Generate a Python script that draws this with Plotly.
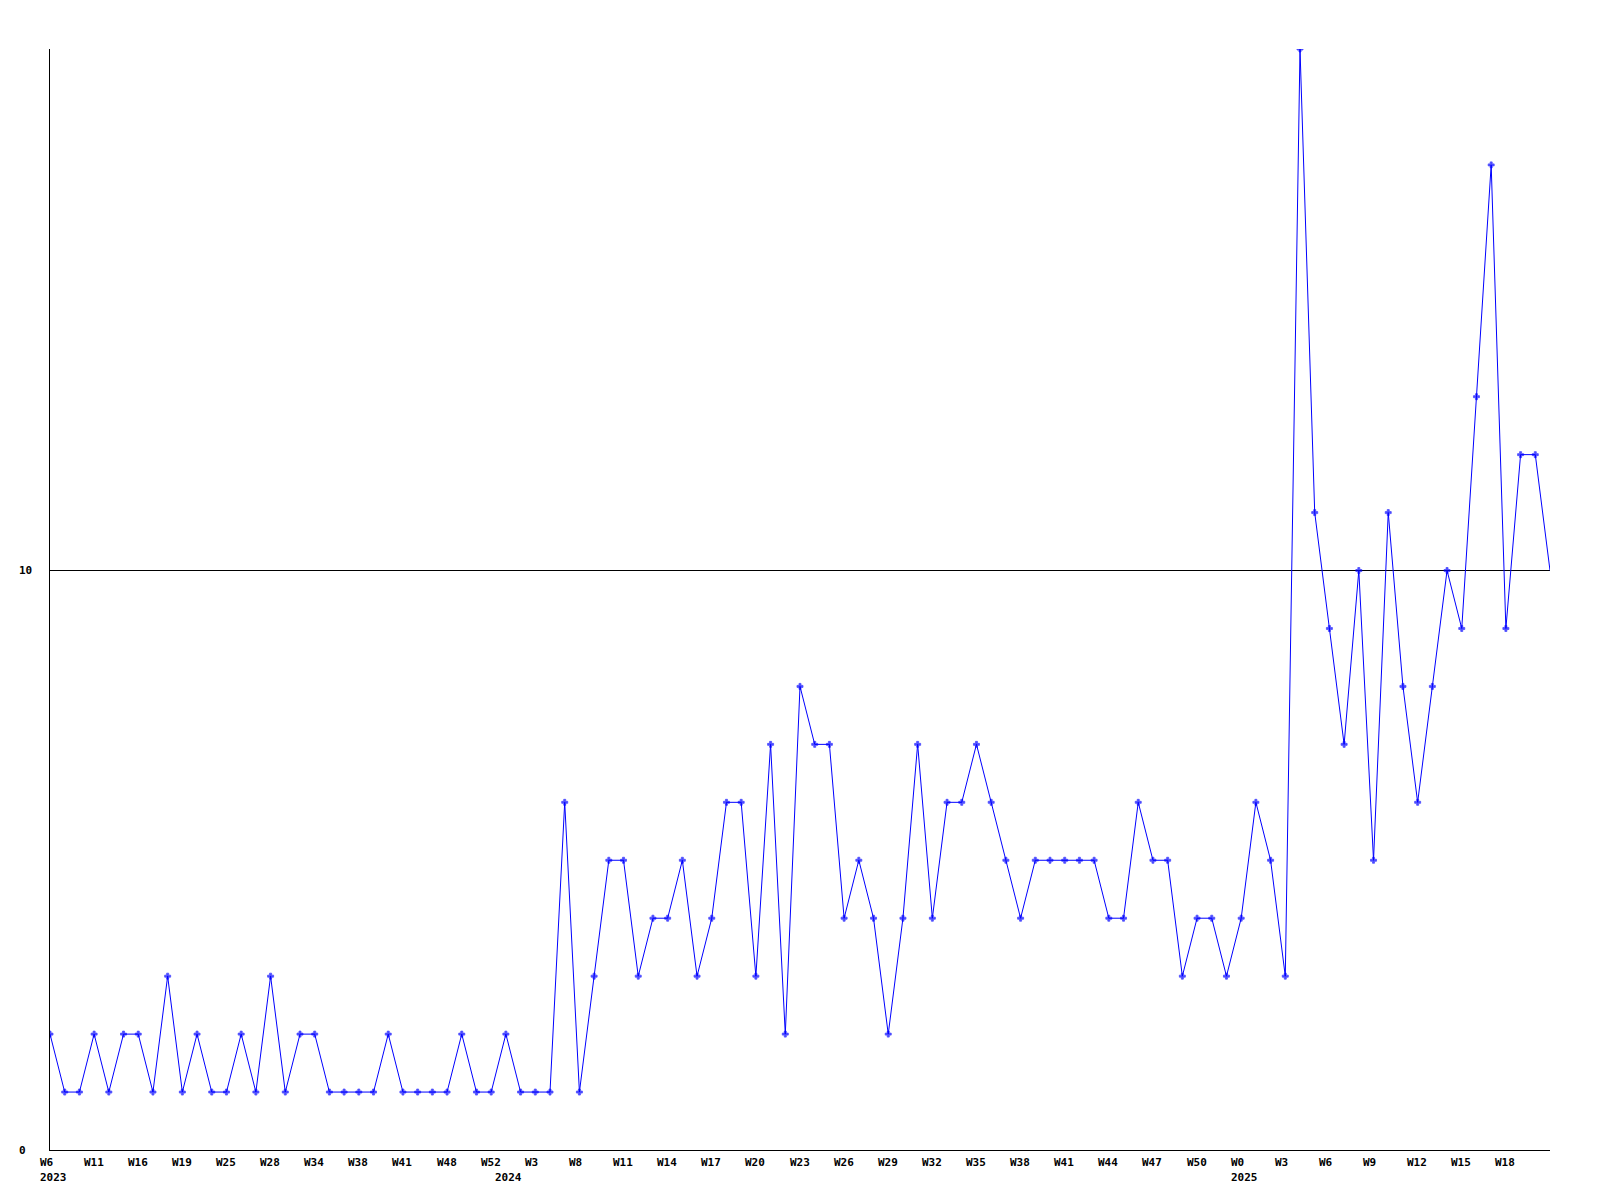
import plotly.graph_objects as go

values = [2, 1, 1, 2, 1, 2, 2, 1, 3, 1, 2, 1, 1, 2, 1, 3, 1, 2, 2, 1,
          1, 1, 1, 2, 1, 1, 1, 1, 2, 1, 1, 2, 1, 1, 1, 6, 1, 3, 5, 5,
          3, 4, 4, 5, 3, 4, 6, 6, 3, 7, 2, 8, 7, 7, 4, 5, 4, 2, 4, 7,
          4, 6, 6, 7, 6, 5, 4, 5, 5, 5, 5, 5, 4, 4, 6, 5, 5, 3, 4, 4,
          3, 4, 6, 5, 3, 19, 11, 9, 7, 10, 5, 11, 8, 6, 8, 10, 9, 13, 17, 9,
          12, 12, 10]

week_labels = ["W6", "W11", "W16", "W19", "W25", "W28", "W34", "W38", "W41", "W48",
               "W52", "W3", "W8", "W11", "W14", "W17", "W20", "W23", "W26", "W29",
               "W32", "W35", "W38", "W41", "W44", "W47", "W50", "W0", "W3", "W6",
               "W9", "W12", "W15", "W18"]
week_label_idx = [i * 3 for i in range(len(week_labels))]

year_labels = ["2023", "2024", "2025"]
year_label_idx = [0, 31, 81]

y_tick_vals = [0, 10]

x = list(range(len(values)))
font = dict(family="DejaVu Sans Mono", size=11, color="black")

marker_sizes = [5] * (len(values) - 1) + [0]

fig = go.Figure()
fig.add_trace(go.Scatter(
    x=x, y=values, mode="lines+markers",
    line=dict(color="#0000ff", width=1),
    marker=dict(symbol="cross", size=marker_sizes, color="#0000ff",
                line=dict(width=0.8, color="#0000ff")),
    showlegend=False, hoverinfo="skip",
))

annotations = []
for idx, lab in zip(week_label_idx, week_labels):
    annotations.append(dict(x=idx, y=0, xref="x", yref="paper", text="<b>%s</b>" % lab,
                            showarrow=False, xanchor="left", yanchor="middle",
                            xshift=-12.5, yshift=-12, font=font))
for idx, lab in zip(year_label_idx, year_labels):
    annotations.append(dict(x=idx, y=0, xref="x", yref="paper", text="<b>%s</b>" % lab,
                            showarrow=False, xanchor="left", yanchor="middle",
                            xshift=-12.5, yshift=-27, font=font))
for v in y_tick_vals:
    annotations.append(dict(x=0, y=v, xref="paper", yref="y", text="<b>%d</b>" % v,
                            showarrow=False, xanchor="left", yanchor="middle",
                            xshift=-33, font=font))

fig.update_layout(
    width=1600, height=1200,
    margin=dict(l=42, r=58, t=41, b=58, autoexpand=False),
    paper_bgcolor="white", plot_bgcolor="white",
    annotations=annotations,
    xaxis=dict(range=[0, len(values) - 1], showgrid=False, zeroline=False,
               showline=True, linecolor="black", linewidth=1,
               showticklabels=False, ticks=""),
    yaxis=dict(range=[0, 19], tickvals=y_tick_vals, showgrid=True,
               gridcolor="black", gridwidth=1, zeroline=False,
               showline=True, linecolor="black", linewidth=1,
               showticklabels=False, ticks=""),
)

fig.write_html("out.html")
